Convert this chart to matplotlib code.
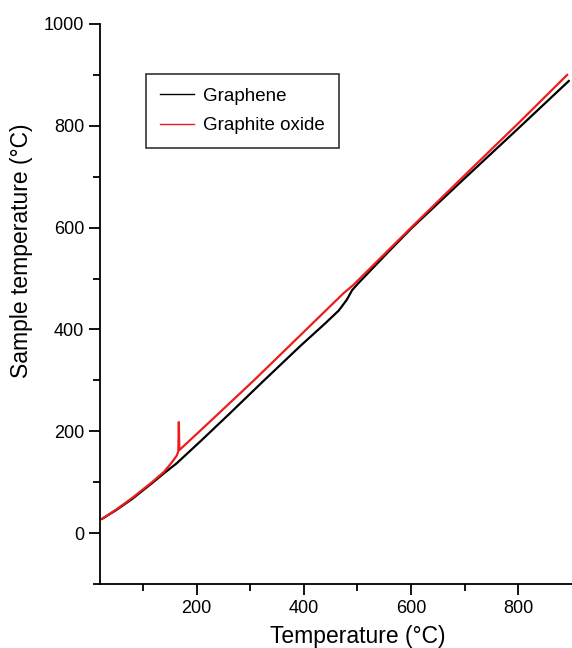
import numpy as np
import matplotlib.pyplot as plt

plt.rcParams['font.family'] = ['Liberation Sans', 'DejaVu Sans']

# graphene trace
t_graphene = [24, 50, 80, 117, 140, 163, 209, 260, 326, 394, 440, 465, 480, 490, 500, 530, 561, 600, 700, 800, 894]
y_graphene = [28, 45, 67, 98, 118, 137, 182, 233, 300, 368, 412, 437, 458, 477, 489, 522, 556, 598, 697, 795, 888]

# graphite oxide trace, with the spike near 165 C
t_oxide = [24, 50, 80, 117, 140, 154, 163, 166, 167, 168, 220, 307, 394, 474, 493, 600, 700, 800, 891]
y_oxide = [28, 46, 69, 100, 121, 139, 152, 160, 218, 163, 214, 300, 389, 471, 488, 600, 703, 805, 900]

fig = plt.figure(figsize=(5.72, 6.48), dpi=100)
ax = fig.add_axes([0.1748, 0.0988, 0.8252, 0.8642])

ax.plot(t_graphene, y_graphene, color='black', lw=1.6, label='Graphene')
ax.plot(t_oxide, y_oxide, color='#ee1c1c', lw=1.6, label='Graphite oxide')

ax.set_xlim(20, 900)
ax.set_ylim(-100, 1000)
ax.set_xticks([200, 400, 600, 800])
ax.set_xticks([100, 300, 500, 700], minor=True)
ax.set_yticks([0, 200, 400, 600, 800, 1000])
ax.set_yticks([-100, 100, 300, 500, 700, 900], minor=True)

for s in ['top', 'right']:
    ax.spines[s].set_visible(False)
for s in ['left', 'bottom']:
    ax.spines[s].set_linewidth(1.3)
ax.tick_params(which='major', direction='out', length=8, width=1.3, labelsize=13)
ax.tick_params(which='minor', direction='out', length=5, width=1.3)

ax.set_xlabel('Temperature (°C)', fontsize=16.5, labelpad=6)
ax.set_ylabel('Sample temperature (°C)', fontsize=16.5, labelpad=8)
ax.xaxis.label.set_x(0.547)
ax.yaxis.label.set_y(0.595)

leg = ax.legend(loc='upper left', bbox_to_anchor=(0.255, 0.886), bbox_transform=fig.transFigure,
                fontsize=13.5, frameon=True, fancybox=False, borderaxespad=0,
                handlelength=1.8, handletextpad=0.5, borderpad=0.75, labelspacing=0.65)
leg.get_frame().set_edgecolor('black')
leg.get_frame().set_linewidth(1.2)
for h in leg.get_lines():
    h.set_linewidth(1.0)

fig.savefig('out.png', dpi=100)
